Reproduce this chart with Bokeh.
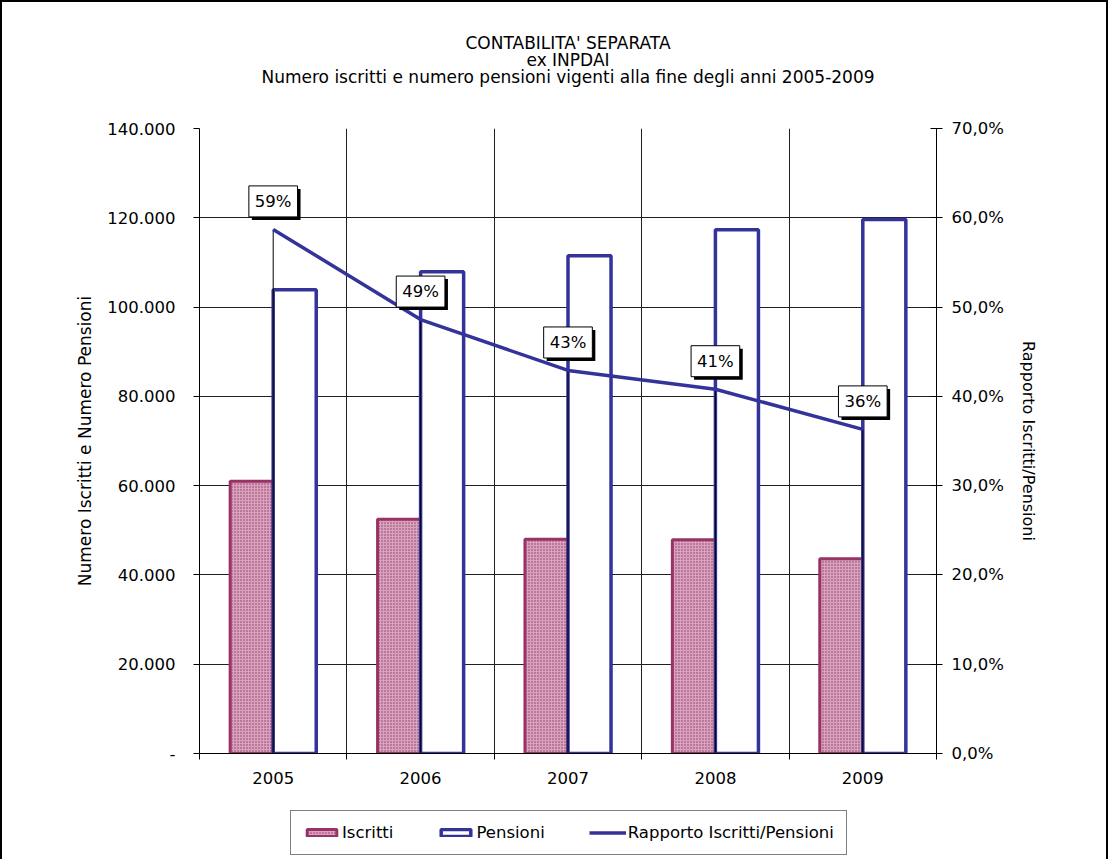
from bokeh.plotting import figure
from bokeh.layouts import column
from bokeh.models import (Range1d, LinearAxis, FixedTicker, Legend, LegendItem, Title)
from bokeh.embed import file_html
from bokeh.resources import INLINE
from bokeh.core.properties import value

# ---------------- data ----------------
years = ["2005", "2006", "2007", "2008", "2009"]
iscritti = [61000, 52500, 48000, 47900, 43600]
pensioni = [103900, 107900, 111500, 117300, 119600]
rapporto = [58.7, 48.6, 42.9, 40.8, 36.3]
left_ticks = [0, 20000, 40000, 60000, 80000, 100000, 120000, 140000]
left_tick_labels = ["-", "20.000", "40.000", "60.000", "80.000", "100.000", "120.000", "140.000"]
right_ticks = [0, 10, 20, 30, 40, 50, 60, 70]
right_tick_labels = ["0,0%", "10,0%", "20,0%", "30,0%", "40,0%", "50,0%", "60,0%", "70,0%"]
title_lines = ["CONTABILITA' SEPARATA", "ex INPDAI",
               "Numero iscritti e numero pensioni vigenti alla fine degli anni 2005-2009"]
series_names = ["Iscritti", "Pensioni", "Rapporto Iscritti/Pensioni"]
y_left_label = "Numero Iscritti e Numero Pensioni"
y_right_label = "Rapporto Iscritti/Pensioni"

FONT = "DejaVu Sans"
FS = "16.5px"
MAGENTA = "#993366"
PINK = "#D7A3BD"
NAVY = "#333399"
BORDER = "2px solid black"

n = len(years)
centers = [i + 0.5 for i in range(n)]
bw = 0.292
x_isc = [c - bw / 2 for c in centers]
x_pen = [c + bw / 2 for c in centers]
rap_labels = [f"{round(v)}%" for v in rapporto]

isc_style = dict(fill_color=PINK, hatch_pattern="dot", hatch_color=MAGENTA,
                 hatch_scale=3, hatch_weight=2.5, line_color=MAGENTA, line_width=3)
pen_style = dict(fill_color="white", line_color=NAVY, line_width=3.5)
line_style = dict(line_color=NAVY, line_width=3.5)

p = figure(width=1108, height=799, output_backend="svg", toolbar_location=None,
           x_range=Range1d(0, n), y_range=Range1d(0, 140000),
           min_border_left=197, min_border_right=174, min_border_top=126,
           min_border_bottom=48, background_fill_color="white",
           border_fill_color="white", outline_line_color=None, title=None)
p.styles = {"border-top": BORDER, "border-left": BORDER, "border-right": BORDER}
p.extra_y_ranges = {"pct": Range1d(0, 70)}

# title: spacer first (closest to the frame), then the three lines
p.add_layout(Title(text=" ", text_font=FONT, text_font_size="17px", standoff=22), "above")
for line in [title_lines[2], title_lines[1], title_lines[0]]:
    p.add_layout(Title(text=line, align="center", text_font=FONT,
                       text_font_size="17px", text_font_style="normal",
                       text_color="black", standoff=-5), "above")

# grids
p.xgrid.ticker = FixedTicker(ticks=[1, 2, 3, 4])
p.xgrid.grid_line_color = "#202020"
p.ygrid.ticker = FixedTicker(ticks=left_ticks[1:])
p.ygrid.grid_line_color = "#202020"

def style_axis(ax, label_size):
    ax.axis_label_text_font = FONT
    ax.axis_label_text_font_size = label_size
    ax.axis_label_text_font_style = "normal"
    ax.axis_label_text_color = "black"
    ax.major_label_text_font = FONT
    ax.major_label_text_font_size = FS
    ax.major_label_text_color = "black"
    ax.axis_line_color = "black"
    ax.major_tick_line_color = "black"
    ax.minor_tick_line_color = "black"

# left axis
ya = p.yaxis[0]
ya.ticker = FixedTicker(ticks=left_ticks)
ya.major_label_overrides = dict(zip(left_ticks, left_tick_labels))
ya.axis_label = y_left_label
style_axis(ya, "17px")
ya.major_tick_in = 0
ya.major_tick_out = 6
ya.minor_tick_in = 0
ya.minor_tick_out = 0
ya.major_label_standoff = 18
ya.axis_label_standoff = 9

# right axis
ra = LinearAxis(y_range_name="pct", ticker=FixedTicker(ticks=right_ticks),
                axis_label=y_right_label)
ra.major_label_overrides = dict(zip(right_ticks, right_tick_labels))
style_axis(ra, "16px")
ra.major_tick_in = 6
ra.major_tick_out = 6
ra.minor_tick_in = 0
ra.minor_tick_out = 0
ra.major_label_standoff = 9
ra.axis_label_standoff = 12
p.add_layout(ra, "right")

# x axis
xa = p.xaxis[0]
xa.ticker = FixedTicker(ticks=centers, minor_ticks=list(range(n + 1)))
xa.major_label_overrides = dict(zip(centers, years))
style_axis(xa, FS)
xa.major_tick_in = 0
xa.major_tick_out = 0
xa.minor_tick_in = 0
xa.minor_tick_out = 6
xa.major_label_standoff = 12

# bars
p.vbar(x=x_isc, top=iscritti, bottom=0, width=bw, **isc_style)
p.vbar(x=x_pen, top=pensioni, bottom=0, width=bw, **pen_style)

# drop lines and ratio line
p.segment(x0=centers, y0=[0] * n, x1=centers, y1=rapporto, y_range_name="pct",
          line_color="black", line_width=1)
p.line(centers, rapporto, y_range_name="pct", **line_style)

# data labels (shadow + box)
p.text(x=centers, y=rapporto, text=rap_labels, y_range_name="pct",
       x_offset=3, y_offset=-25, text_align="center", text_baseline="middle",
       text_font_size=FS, text_font=value(FONT), text_alpha=0,
       background_fill_color="black", padding=6)
p.text(x=centers, y=rapporto, text=rap_labels, y_range_name="pct",
       x_offset=0, y_offset=-28, text_align="center", text_baseline="middle",
       text_font_size=FS, text_font=value(FONT), text_color="black",
       background_fill_color="white", border_line_color="black",
       border_line_width=1, padding=6)

# ---------------- legend strip (separate figure below the chart) ----------------
# hidden copies of the series feed the legend (nothing is drawn in this strip)
q = figure(width=1108, height=60, output_backend="svg", toolbar_location=None,
           x_range=Range1d(0, n), y_range=Range1d(0, 1), x_axis_type=None,
           y_axis_type=None, min_border=0, outline_line_color=None,
           background_fill_color="white", border_fill_color="white", title=None)
q.styles = {"border-left": BORDER, "border-right": BORDER}
q.grid.visible = False
lr_isc = q.vbar(x=x_isc, top=iscritti, bottom=0, width=bw, visible=False, **isc_style)
lr_pen = q.vbar(x=x_pen, top=pensioni, bottom=0, width=bw, visible=False, **pen_style)
lr_line = q.line(centers, rapporto, visible=False, **line_style)

legend = Legend(items=[LegendItem(label=series_names[0], renderers=[lr_isc]),
                       LegendItem(label=series_names[1], renderers=[lr_pen]),
                       LegendItem(label=series_names[2], renderers=[lr_line])],
                orientation="horizontal", location=(91, 4),
                border_line_color="black", border_line_width=1,
                background_fill_color="white", padding=12, spacing=44,
                glyph_width=37, glyph_height=9, label_standoff=2,
                label_text_font=FONT, label_text_font_size=FS,
                label_text_color="black", label_height=17, margin=0,
                inactive_fill_alpha=0.0)
q.add_layout(legend, "center")

layout = column(p, q, spacing=0)
open("out.html", "w").write(file_html(layout, INLINE))
